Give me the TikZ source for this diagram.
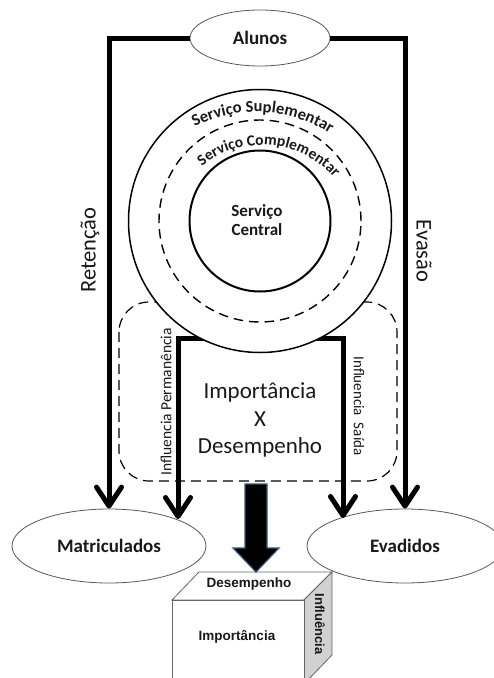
\documentclass[tikz,border=0pt]{standalone}
\usepackage{fontspec}
\setmainfont{Carlito}
\newfontfamily\arialf{Liberation Sans}
\usetikzlibrary{shapes.geometric,arrows.meta,decorations.text}
\definecolor{inkc}{gray}{0.1}
\definecolor{arrowrim}{RGB}{60,85,120}
\tikzset{
  flow/.style={line width=5pt,line join=miter,-{Straight Barb[length=19pt,width=25pt,line width=5pt,round]}},
  oval/.style={ellipse,draw=black!65,line width=0.8pt,fill=white,inner sep=0pt,text=inkc,font=\bfseries\fontsize{19}{21}\selectfont},
  ring/.style={circle,draw=black,fill=white,inner sep=0pt},
  rotlabel/.style={text=inkc,inner sep=0pt,font=\fontsize{15.5}{17}\selectfont},
  biglabel/.style={text=inkc,inner sep=0pt,font=\fontsize{23}{27.5}\selectfont},
  boxface/.style={draw=black!60,line width=0.8pt,line join=miter},
  boxlabel/.style={text=inkc,inner sep=0pt,font=\arialf\bfseries\fontsize{13.5}{15}\selectfont},
  dashbox/.style={draw=black,line width=1.2pt,dash pattern=on 10pt off 6pt,rounded corners=30pt}
}
\begin{document}
\begin{tikzpicture}[x=1pt,y=1pt]
\clip (0,0) rectangle (494,-678);
\fill[white] (0,0) rectangle (494,-678);
% panel
\draw[dashbox] (119,-302) rectangle (397,-481);
% cube
\draw[boxface,fill=white] (172,-600) -- (199,-572) -- (332,-572) -- (304,-600) -- cycle;
\draw[boxface,fill=black!18] (304,-600) -- (332,-572) -- (332,-655) -- (304,-684) -- cycle;
\draw[boxface,fill=white] (172,-600) rectangle (304,-690);
% nodes
\node[oval,minimum width=140pt,minimum height=56pt] (alunos) at (260,-38) {Alunos};
\node[oval,minimum width=194pt,minimum height=74pt] (matr) at (109,-546) {Matriculados};
\node[oval,minimum width=196pt,minimum height=74pt] (evad) at (405,-546) {Evadidos};
\coordinate (inL) at (205,-338);
\coordinate (inR) at (315,-338);
\coordinate (tipL) at (178,-519);
\coordinate (tipR) at (343,-518);
% connectors
\draw[flow] (alunos.west) -| (matr.north);
\draw[flow] (alunos.east) -| (evad.north);
\draw[flow] (inL) -| (tipL);
\draw[flow] (inR) -| (tipR);
% rings
\node[ring,line width=1.5pt,minimum size=263pt] (outer) at (260,-221) {};
\node[ring,line width=1.4pt,dash pattern=on 9.5pt off 6pt,minimum size=202pt] (middle) at (260,-221) {};
\node[ring,line width=2pt,minimum size=141pt] (inner) at (260,-221) {};
\node[inner sep=0pt,align=center,text=inkc,font=\bfseries\fontsize{17}{19.5}\selectfont] (central) at (257,-220) {Serviço\\Central};
% arched text
\path[decorate,decoration={text along path,text align=center,text={|\bfseries\fontsize{16.5}{18}\selectfont\color{inkc}|Serviço Suplementar}}]
  (256,-250) ++(117:138) arc[start angle=117,end angle=57,radius=138];
\path[decorate,decoration={text along path,text align=center,text={|\bfseries\fontsize{15.5}{17}\selectfont\color{inkc}|Serviço Complementar}}]
  (262,-241) ++(133:96) arc[start angle=133,end angle=37,radius=96];
% labels
\node[biglabel,rotate=90,font=\fontsize{22.5}{24}\selectfont] (ret) at (90,-250) {Retenção};
\node[biglabel,rotate=-90,font=\fontsize{22.5}{24}\selectfont] (eva) at (424,-251) {Evasão};
\node[rotlabel,rotate=90] (perm) at (166,-402) {Influencia Permanência};
\node[rotlabel,rotate=-90,font=\fontsize{15}{17}\selectfont] (sai) at (359,-406) {Influencia\ \ Saída};
\node[biglabel,align=center] (ixd) at (260,-420) {Importância\\X\\Desempenho};
% big arrow
\draw[draw=arrowrim,line width=1.2pt,fill=black,line join=miter]
  (245,-484) -- (267,-484) -- (267,-548) -- (279,-548) -- (256,-572) -- (233,-548) -- (245,-548) -- cycle;
% cube labels
\node[boxlabel] (des) at (249,-584) {Desempenho};
\node[boxlabel] (imp) at (237,-637) {Importância};
\node[boxlabel,rotate=-90,font=\arialf\bfseries\fontsize{13}{15}\selectfont] (inf) at (320,-624) {Influência};
\end{tikzpicture}
\end{document}
